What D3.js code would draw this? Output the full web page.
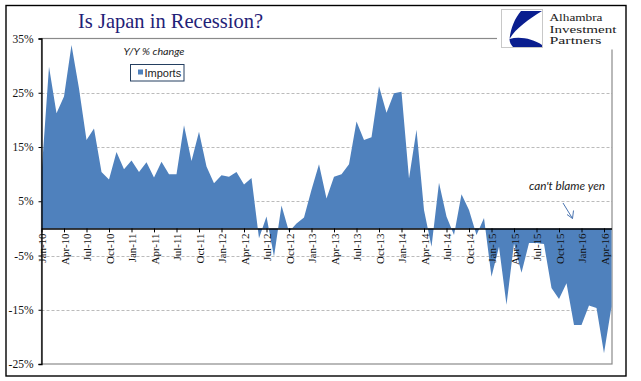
<!DOCTYPE html>
<html><head><meta charset="utf-8">
<script src="https://cdn.jsdelivr.net/npm/d3@7"></script>
<style>body{margin:0;background:#fff}svg{display:block}</style>
</head><body>
<svg id="c" width="641" height="381"></svg>
<script>
// ---- data ----
const startMonth = [2010, 0];          // Jan-10
const monthCount = 77;                 // Jan-10 .. May-16
const imports = [
  10.0, 29.8, 21.2, 24.3, 33.8, 25.8, 16.3, 18.4, 10.4, 9.0, 14.1, 10.9,
  12.5, 10.4, 12.2, 9.4, 12.3, 10.0, 10.0, 19.0, 12.4, 17.8, 11.4, 8.3,
  9.8, 9.5, 10.4, 8.1, 9.3, -1.8, 2.2, -5.2, 4.2, -0.6, 0.9, 2.0,
  7.1, 11.8, 5.5, 9.5, 10.0, 11.8, 19.7, 16.3, 16.8, 26.2, 21.3, 24.9,
  25.2, 9.2, 18.2, 3.4, -3.4, 8.4, 2.2, -1.2, 6.3, 3.4, -1.2, 1.9,
  -8.9, -3.4, -14.1, -2.8, -8.2, -2.7, -2.7, -2.9, -11.0, -13.0, -10.1, -17.8,
  -17.8, -14.2, -14.7, -23.0, -14.4
];
const yTicks = [35, 25, 15, 5, -5, -15, -25];
const gridValues = [25, 15, 5, -5, -15];
const xTickLabels = ["Jan-10","Apr-10","Jul-10","Oct-10","Jan-11","Apr-11","Jul-11","Oct-11",
  "Jan-12","Apr-12","Jul-12","Oct-12","Jan-13","Apr-13","Jul-13","Oct-13","Jan-14","Apr-14",
  "Jul-14","Oct-14","Jan-15","Apr-15","Jul-15","Oct-15","Jan-16","Apr-16"];
const titleText = "Is Japan in Recession?";
const seriesName = "Imports";
const subtitleText = "Y/Y % change";
const noteText = "can't blame yen";
const logoLines = ["Alhambra", "Investment", "Partners"];

// ---- build ----
const fmt = d3.timeFormat("%b-%y");
const months = d3.range(monthCount).map(i => fmt(new Date(startMonth[0], startMonth[1] + i, 1)));
const data = months.map((m, i) => ({m, v: imports[i]}));

const svg = d3.select("#c");
const L = 41.5, R = 611.5, T = 38.5, B = 364;
const x = d3.scalePoint().domain(months).range([L, R]).padding(0);
const y = d3.scaleLinear().domain([-25, 35]).range([B, T]);
const blue = "#4F81BD";

// outer frame
svg.append("rect").attr("x", 6).attr("y", 5.5).attr("width", 620).attr("height", 370.5)
  .attr("fill", "#fff").attr("stroke", "#000").attr("stroke-width", 1.4);

// gridlines
svg.append("g").selectAll("line").data(gridValues).join("line")
  .attr("x1", L).attr("x2", 612).attr("y1", d => Math.round(y(d)) + 0.5).attr("y2", d => Math.round(y(d)) + 0.5)
  .attr("stroke", "#a9a9a9").attr("stroke-width", 0.8).attr("stroke-dasharray", "3,2");

// plot border
svg.append("rect").attr("x", L).attr("y", T).attr("width", 612 - L).attr("height", B - T)
  .attr("fill", "none").attr("stroke", "#8a8a8a").attr("stroke-width", 1.2);

// area
const area = d3.area().x(d => x(d.m)).y0(y(0)).y1(d => y(d.v)).curve(d3.curveLinear);
svg.append("path").datum(data).attr("d", area).attr("fill", blue);

// y axis
const yAxis = svg.append("g").attr("transform", `translate(${L},0)`)
  .call(d3.axisLeft(y).tickValues(yTicks).tickFormat(d => d + "%").tickSize(3).tickPadding(5));
yAxis.select(".domain").attr("stroke", "#000").attr("stroke-width", 1.3);
yAxis.selectAll(".tick line").attr("stroke", "#000");
yAxis.selectAll("text").attr("font-family", "'Liberation Serif', serif").attr("font-size", 11.5).attr("fill", "#111");

// x axis at zero
const tickCats = months.filter(m => xTickLabels.includes(m));
const xAxis = svg.append("g").attr("transform", `translate(0,${y(0)})`)
  .call(d3.axisBottom(x).tickValues(tickCats).tickSize(4).tickSizeOuter(0));
xAxis.select(".domain").attr("stroke", "#000").attr("stroke-width", 1.5);
xAxis.selectAll(".tick line").attr("stroke", "#000");
xAxis.selectAll("text")
  .attr("font-family", "'Liberation Serif', serif").attr("font-size", 11).attr("fill", "#111")
  .attr("text-anchor", "end").attr("dy", "0.35em")
  .attr("transform", "rotate(-90)")
  .attr("x", -5).attr("y", 0.5);

// title
svg.append("text").attr("x", 78).attr("y", 28.3).text(titleText)
  .attr("font-family", "'Liberation Serif', serif").attr("font-size", 21.5).attr("fill", "#1F2277")
  .attr("textLength", 185).attr("lengthAdjust", "spacingAndGlyphs");

// subtitle
svg.append("text").attr("x", 123.5).attr("y", 54.5).text(subtitleText)
  .attr("font-family", "Lato, 'Open Sans', sans-serif").attr("font-style", "italic").attr("font-size", 10)
  .attr("fill", "#222").attr("textLength", 61).attr("lengthAdjust", "spacingAndGlyphs");

// legend
svg.append("rect").attr("x", 130.5).attr("y", 64.5).attr("width", 53.5).attr("height", 16.5)
  .attr("fill", "#fff").attr("stroke", "#243F60").attr("stroke-width", 1);
svg.append("rect").attr("x", 138).attr("y", 69.5).attr("width", 5).attr("height", 5).attr("fill", blue);
svg.append("text").attr("x", 144.5).attr("y", 76.5).text(seriesName)
  .attr("font-family", "'Liberation Sans', Arial, sans-serif").attr("font-size", 11).attr("fill", "#222");

// annotation
svg.append("text").attr("x", 529).attr("y", 189.5).text(noteText)
  .attr("font-family", "Lato, 'Open Sans', sans-serif").attr("font-style", "italic").attr("font-size", 12)
  .attr("fill", "#1a1a1a").attr("textLength", 76).attr("lengthAdjust", "spacingAndGlyphs");
svg.append("path").attr("d", "M563,203 L572.5,218.5 M567,214.5 L572.5,218.5 L573.5,210.5")
  .attr("fill", "none").attr("stroke", "#4A74B0").attr("stroke-width", 1);

// logo
svg.append("rect").attr("x", 497).attr("y", 7).attr("width", 128).attr("height", 42.5).attr("fill", "#fff");
svg.append("rect").attr("x", 501.5).attr("y", 9.5).attr("width", 41).attr("height", 38)
  .attr("fill", "#fff").attr("stroke", "#c8c8c8").attr("stroke-width", 1);
svg.append("path").attr("d", "M521,11 L542,11 C529,19 516,28 509.5,39 C511,27 515,18 521,11 Z").attr("fill", "#0A1E8F");
svg.append("path").attr("d", "M509.5,39 C520,36 533,39 542,45 L542,47 L513,47 C511,45 509.5,42 509.5,39 Z").attr("fill", "#0A1E8F");
svg.selectAll("text.logo").data(logoLines).join("text").attr("class", "logo")
  .attr("x", 549.5).attr("y", (d, i) => 21 + i * 11.6).text(d => d)
  .attr("font-family", "'Liberation Serif', serif").attr("font-size", 10.4).attr("fill", "#1a1a1a")
  .attr("textLength", (d, i) => [53, 67, 52][i]).attr("lengthAdjust", "spacingAndGlyphs");
</script>
</body></html>
